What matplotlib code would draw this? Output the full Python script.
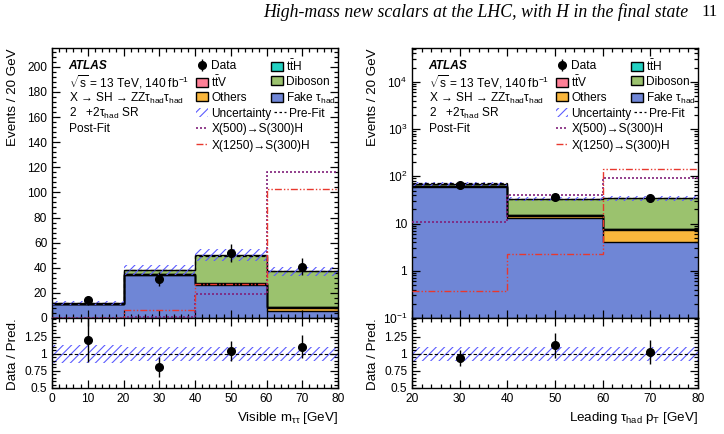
import numpy as np
import matplotlib
matplotlib.use("Agg")
import matplotlib.pyplot as plt
from matplotlib.patches import Patch
from matplotlib.lines import Line2D
from matplotlib.ticker import MultipleLocator, FixedLocator, NullFormatter, FixedFormatter, LogLocator

plt.rcParams['font.family'] = ['Liberation Sans', 'DejaVu Sans']
plt.rcParams['mathtext.fontset'] = 'custom'
plt.rcParams['mathtext.rm'] = 'Liberation Sans'
plt.rcParams['mathtext.it'] = 'Liberation Sans:italic'
plt.rcParams['hatch.linewidth'] = 0.8

# ---------------- data ----------------
# Left: visible m_tautau
edges_l = [0, 20, 40, 60, 80]
fake_l = [10.9, 34.0, 26.0, 5.5]
others_l = [0.3, 0.5, 1.0, 2.5]
ttv_l = [0.1, 0.2, 0.3, 0.4]
tth_l = [0.05, 0.1, 0.2, 0.3]
diboson_l = [0.3, 3.5, 22.5, 28.5]
prefit_l = [11.8, 38.5, 49.5, 37.5]
unc_rel_l = [0.13, 0.10, 0.10, 0.10]
data_l = [14, 31, 52, 41]
x500_l = [0.3, 1.0, 19.0, 116.0]
x1250_l = [0.2, 6.5, 27.0, 103.0]

# Right: leading tau_had pT
edges_r = [20, 40, 60, 80]
fake_r = [60.0, 13.0, 4.1]
others_r = [1.0, 1.5, 3.2]
ttv_r = [0.3, 0.3, 0.3]
tth_r = [0.2, 0.2, 0.2]
diboson_r = [8.5, 18.0, 26.2]
prefit_r = [70.5, 33.5, 34.0]
unc_rel_r = [0.10, 0.10, 0.10]
data_r = [66, 37, 35]
x500_r = [11.0, 41.0, 91.0]
x1250_r = [0.37, 2.3, 142.0]

labels_comp = ["Fake τ$_{\\rm had}$", "Others", "t$\\bar{\\rm t}$V", "t$\\bar{\\rm t}$H", "Diboson"]
colors_comp = ["#6f86d6", "#f9b63c", "#fe7f96", "#22d1c2", "#9bc26e"]
hatch_col = "#5c5cff"
c500 = "#80207a"
c1250 = "#e8382e"

W, H = 724, 434
fig = plt.figure(figsize=(W / 100, H / 100), dpi=100)

def fx(px):
    return px / W

def fy(py):
    return 1 - py / H

FS = 8.6

def style_axis(ax, xmaj, xmin):
    ax.tick_params(which='both', direction='in', top=True, right=True, labelsize=FS, width=0.9)
    ax.tick_params(which='major', length=6)
    ax.tick_params(which='minor', length=3)
    ax.xaxis.set_major_locator(MultipleLocator(xmaj))
    ax.xaxis.set_minor_locator(MultipleLocator(xmin))
    for s in ax.spines.values():
        s.set_linewidth(1.0)


def entry(ax, handle, label, x, y, hl=1.0):
    leg = ax.legend([handle], [label], frameon=False, fontsize=FS, handlelength=hl,
                    handleheight=0.8, handletextpad=0.25, borderpad=0, borderaxespad=0,
                    loc='center left', bbox_to_anchor=(x, y))
    ax.legend_ = None
    ax.add_artist(leg)


def panel(x0px, edges, comps, prefit, unc_rel, data, x500, x1250, logy, xlabel):
    edges = np.array(edges, float)
    centers = 0.5 * (edges[1:] + edges[:-1])
    axm = fig.add_axes([fx(x0px), fy(318), fx(286), fy(48) - fy(318)])
    axr = fig.add_axes([fx(x0px), fy(388), fx(286), fy(318) - fy(388)], sharex=axm)

    base = np.full(len(centers), 1e-3 if logy else 0.0)
    for vals, col in zip(comps, colors_comp):
        top = base + np.array(vals)
        axm.stairs(top, edges, baseline=base, fill=True, color=col, lw=0, zorder=1)
        axm.stairs(top, edges, baseline=None, color='black', lw=1.0, zorder=2)
        base = top
    total = base
    unc = total * np.array(unc_rel)
    axm.stairs(total + unc, edges, baseline=total - unc, fill=True, facecolor='none',
               edgecolor=hatch_col, hatch='////', lw=0, zorder=3)
    axm.stairs(prefit, edges, baseline=None, color='black', ls=(0, (3, 2)), lw=0.9, zorder=3)
    axm.stairs(x500, edges, baseline=None, color=c500, ls=(0, (1.2, 1.2)), lw=1.2, zorder=4)
    axm.stairs(x1250, edges, baseline=None, color=c1250, ls=(0, (5, 1.5, 1, 1.5, 1, 1.5)), lw=1.0, zorder=4)
    d = np.array(data, float)
    eb = axm.errorbar(centers, d, yerr=np.sqrt(d), fmt='o', color='black', ms=5.5, lw=1.0,
                      capsize=0, zorder=6)

    style_axis(axm, 10, 2)
    axm.set_xlim(edges[0], edges[-1])
    plt.setp(axm.get_xticklabels(), visible=False)
    if logy:
        axm.set_yscale('log')
        axm.set_ylim(0.1, 5.2e4)
        axm.yaxis.set_major_locator(FixedLocator([0.1, 1, 10, 100, 1000, 1e4]))
        axm.yaxis.set_major_formatter(FixedFormatter(["$10^{-1}$", "1", "10", "$10^{2}$", "$10^{3}$", "$10^{4}$"]))
        axm.yaxis.set_minor_locator(LogLocator(base=10, subs=np.arange(2, 10), numticks=20))
        axm.yaxis.set_minor_formatter(NullFormatter())
    else:
        axm.set_ylim(0, 215)
        axm.yaxis.set_major_locator(MultipleLocator(20))
        axm.yaxis.set_minor_locator(MultipleLocator(4))
    axm.set_ylabel("Events / 20 GeV", fontsize=FS + 1, loc='top')
    axm.yaxis.set_label_coords(-0.115, 1.0)

    # row centres (axes fraction)
    rows = [0.933, 0.874, 0.815, 0.757, 0.699, 0.638]
    tx = 0.058
    axm.text(tx, rows[0], "ATLAS", transform=axm.transAxes, fontsize=FS, fontweight='bold',
             fontstyle='italic', va='center')
    axm.text(tx, rows[1], "$\\sqrt{\\rm s}$ = 13 TeV, 140 fb$^{-1}$", transform=axm.transAxes,
             fontsize=FS, va='center')
    axm.text(tx, rows[2], "X → SH → ZZτ$_{\\rm had}$τ$_{\\rm had}$",
             transform=axm.transAxes, fontsize=FS, va='center')
    axm.text(tx, rows[3], "2   +2τ$_{\\rm had}$ SR", transform=axm.transAxes, fontsize=FS, va='center')
    axm.text(tx, rows[4] + 0.002, "Post-Fit", transform=axm.transAxes, fontsize=FS, va='center')

    # legend entries
    h_unc = Patch(facecolor='none', edgecolor=hatch_col, hatch='////', lw=0)
    h = lambda i: Patch(facecolor=colors_comp[i], edgecolor='black', lw=1.0)
    h500 = Line2D([], [], color=c500, ls=(0, (1.2, 1.2)), lw=1.2)
    h1250 = Line2D([], [], color=c1250, ls=(0, (5, 1.5, 1, 1.5, 1, 1.5)), lw=1.0)
    hpre = Line2D([], [], color='black', ls=(0, (2, 2)), lw=0.9)
    c1 = 0.505
    c2 = 0.765
    entry(axm, eb, "Data", c1, rows[0])
    entry(axm, h(2), labels_comp[2], c1, rows[1])
    entry(axm, h(1), "Others", c1, rows[2])
    entry(axm, h_unc, "Uncertainty", c1, rows[3])
    entry(axm, h500, "X(500)→S(300)H", c1, rows[4])
    entry(axm, h1250, "X(1250)→S(300)H", c1, rows[5])
    entry(axm, h(3), labels_comp[3], c2, rows[0])
    entry(axm, h(4), "Diboson", c2, rows[1])
    entry(axm, h(0), labels_comp[0], c2, rows[2])
    entry(axm, hpre, "Pre-Fit", c2 + 0.01, rows[3])

    # ratio
    rel = np.array(unc_rel)
    axr.stairs(1 + rel, edges, baseline=1 - rel, fill=True, facecolor='none', edgecolor=hatch_col,
               hatch='////', lw=0, zorder=1)
    axr.axhline(1.0, color='black', ls=(0, (3, 2)), lw=0.8, zorder=2)
    axr.errorbar(centers, d / total, yerr=np.sqrt(d) / total, fmt='o', color='black', ms=5.5,
                 lw=1.0, capsize=0, zorder=5)
    style_axis(axr, 10, 2)
    axr.set_ylim(0.5, 1.52)
    axr.yaxis.set_major_locator(FixedLocator([0.5, 0.75, 1.0, 1.25]))
    axr.yaxis.set_major_formatter(FixedFormatter(["0.5", "0.75", "1", "1.25"]))
    axr.yaxis.set_minor_locator(MultipleLocator(0.05))
    axr.set_ylabel("Data / Pred.", fontsize=FS + 1, loc='top')
    axr.yaxis.set_label_coords(-0.115, 1.0)
    axr.set_xlabel(xlabel, fontsize=FS + 1, loc='right')
    axr.xaxis.set_label_coords(1.0, -0.32)
    axr.xaxis.set_major_formatter(matplotlib.ticker.FormatStrFormatter('%d'))
    return axm, axr


comps_l = [fake_l, others_l, ttv_l, tth_l, diboson_l]
comps_r = [fake_r, others_r, ttv_r, tth_r, diboson_r]
panel(52, edges_l, comps_l, prefit_l, unc_rel_l, data_l, x500_l, x1250_l, False,
      "Visible m$_{\\rm ττ}$ [GeV]")
panel(412, edges_r, comps_r, prefit_r, unc_rel_r, data_r, x500_r, x1250_r, True,
      "Leading τ$_{\\rm had}$ p$_{\\rm T}$ [GeV]")

fig.text(fx(688), fy(12), "High-mass new scalars at the LHC, with H in the final state",
         family='Liberation Serif', style='italic', fontsize=12.8, ha='right', va='center')
fig.text(fx(718), fy(12), "11", family='Liberation Serif', fontsize=12, ha='right', va='center')

fig.savefig("out.png", dpi=100)
